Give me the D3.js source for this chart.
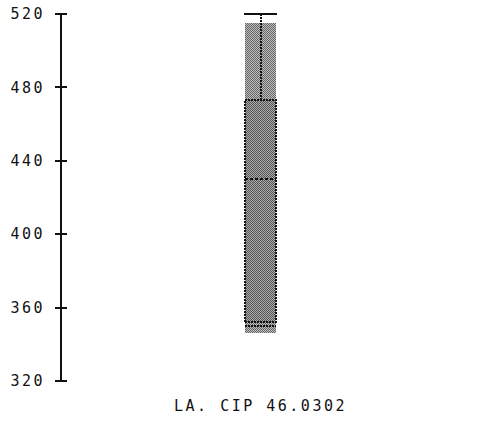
<!doctype html>
<html>
<head>
<meta charset="utf-8">
<script src="https://cdn.jsdelivr.net/npm/d3@7"></script>
<style>
  body { margin: 0; background: #fff; }
  text { font-family: "DejaVu Sans Mono", monospace; font-size: 15px; letter-spacing: 2.5px; fill: #111; }
</style>
</head>
<body>
<script>
// values
const categories = ["LA. CIP 46.0302"];
const whiskLow = [350];
const q1 = [352];
const median = [430];
const q3 = [473];
const whiskHigh = [520];
const bandLow = [346];
const bandHigh = [515];
const yTicks = [320, 360, 400, 440, 480, 520];

const width = 492, height = 424;

const svg = d3.select("body").append("svg")
    .attr("width", width)
    .attr("height", height)
    .attr("shape-rendering", "crispEdges");

const defs = svg.append("defs");

// stipple fills, one lighter for the band, one for the box
function stipple(id, a, b) {
  const p = defs.append("pattern")
      .attr("id", id)
      .attr("width", 2).attr("height", 2)
      .attr("patternUnits", "userSpaceOnUse");
  p.append("rect").attr("width", 2).attr("height", 2).attr("fill", b);
  p.append("rect").attr("width", 1).attr("height", 1).attr("fill", a);
  p.append("rect").attr("x", 1).attr("y", 1).attr("width", 1).attr("height", 1).attr("fill", a);
}
stipple("band", "#666", "#bdbdbd");
stipple("box", "#555", "#aaa");

const y = d3.scaleLinear().domain([320, 520]).range([381, 14]);
const x = d3.scaleBand().domain(categories).range([63, 458]).padding(0.854);

// axis
const axis = svg.append("g").attr("transform", "translate(61,0)");
axis.append("line")
    .attr("y1", y(520)).attr("y2", y(320))
    .attr("stroke", "#111").attr("stroke-width", 2);
axis.selectAll("line.tick")
  .data(yTicks)
  .join("line")
    .attr("class", "tick")
    .attr("x1", -6).attr("x2", 6)
    .attr("y1", d => y(d)).attr("y2", d => y(d))
    .attr("stroke", "#111").attr("stroke-width", 2);
axis.selectAll("text")
  .data(yTicks)
  .join("text")
    .attr("x", -16)
    .attr("y", d => y(d))
    .attr("dy", "0.35em")
    .attr("text-anchor", "end")
    .text(d => d);

const g = svg.append("g")
  .selectAll("g")
  .data(categories)
  .join("g");

const bw = x.bandwidth();
const cx = (d) => x(d) + bw / 2;

// stippled band
g.append("rect")
    .attr("x", d => x(d))
    .attr("width", bw)
    .attr("y", (d, i) => y(bandHigh[i]))
    .attr("height", (d, i) => y(bandLow[i]) - y(bandHigh[i]))
    .attr("fill", "url(#band)");

// whiskers
g.append("line")
    .attr("x1", cx).attr("x2", cx)
    .attr("y1", (d, i) => y(whiskHigh[i]))
    .attr("y2", (d, i) => y(q3[i]))
    .attr("stroke", "#111").attr("stroke-width", 2)
    .attr("stroke-dasharray", "2,1");
g.append("line")
    .attr("x1", d => x(d) - 1).attr("x2", d => x(d) + bw + 1)
    .attr("y1", (d, i) => y(whiskHigh[i]))
    .attr("y2", (d, i) => y(whiskHigh[i]))
    .attr("stroke", "#111").attr("stroke-width", 2);
g.append("line")
    .attr("x1", d => x(d)).attr("x2", d => x(d) + bw)
    .attr("y1", (d, i) => y(whiskLow[i]))
    .attr("y2", (d, i) => y(whiskLow[i]))
    .attr("stroke", "#111").attr("stroke-width", 2)
    .attr("stroke-dasharray", "2,1");

// box
g.append("rect")
    .attr("x", d => x(d))
    .attr("width", bw)
    .attr("y", (d, i) => y(q3[i]))
    .attr("height", (d, i) => y(q1[i]) - y(q3[i]))
    .attr("fill", "url(#box)")
    .attr("stroke", "#111").attr("stroke-width", 2)
    .attr("stroke-dasharray", "2,1");

// median
g.append("line")
    .attr("x1", d => x(d)).attr("x2", d => x(d) + bw)
    .attr("y1", (d, i) => y(median[i]))
    .attr("y2", (d, i) => y(median[i]))
    .attr("stroke", "#111").attr("stroke-width", 2)
    .attr("stroke-dasharray", "3,2");

// category label
g.append("text")
    .attr("x", cx)
    .attr("y", 411)
    .attr("text-anchor", "middle")
    .text(d => d);
</script>
</body>
</html>
